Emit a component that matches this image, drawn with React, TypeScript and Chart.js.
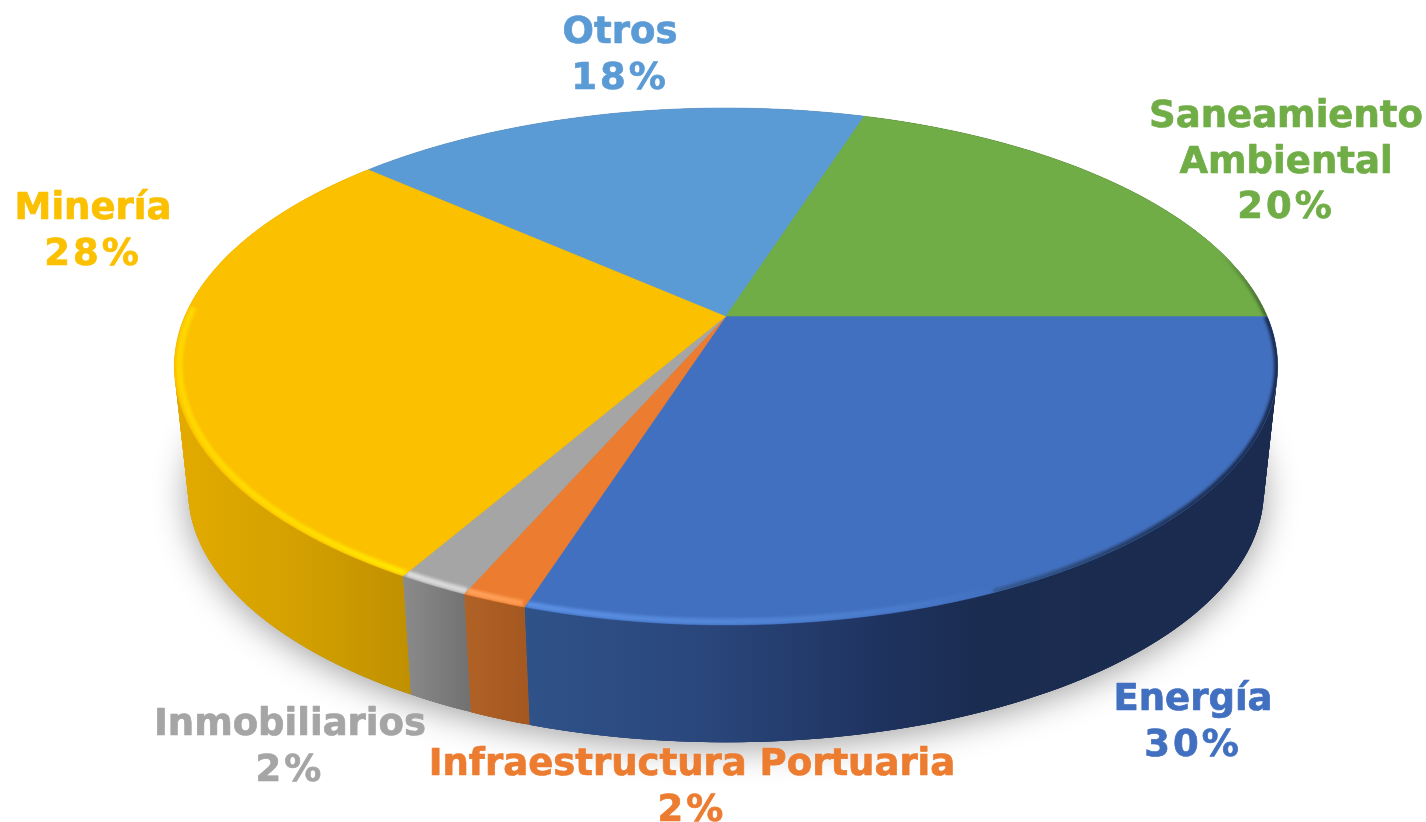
import React, { useEffect, useRef } from "react";
import { Chart, registerables } from "chart.js";

Chart.register(...registerables);

const categories = ["Energía", "Infraestructura Portuaria", "Inmobiliarios", "Minería", "Otros", "Saneamiento Ambiental"];
const shares = [29.9, 1.6, 1.75, 28.35, 18.3, 20.1];
const faceColors = ["#4270c0", "#ec7c30", "#a5a5a5", "#fbc000", "#5b9bd5", "#70ad47"];

const WIDTH = 1426;
const HEIGHT = 822;
const FONT = "bold 37px 'DejaVu Sans'";
const LINE_HEIGHT = 45.5;
const TILT = 0.1954;
const TOP_FACE = { cx: 726, cy: 316, a: 541, b: 248.6 };
const BOTTOM_FACE = { cx: 726, cy: 441, a: 527.5, b: 242.4 };
const SPAN = [175, 1280];

const wallStops: [number, string][][] = [
  [[525, "#2f5289"], [700, "#2a477c"], [880, "#1f3360"], [980, "#1a2c50"], [1280, "#1a2b4f"]],
  [[465, "#b06226"], [530, "#a4571f"]],
  [[405, "#8a8a8a"], [470, "#717171"]],
  [[185, "#e2aa00"], [300, "#d2a000"], [415, "#bf8f00"]],
  [[175, "#888888"], [1280, "#888888"]],
  [[175, "#555555"], [1280, "#555555"]],
];

const rimStyles: { from: number; to: number; t: number; width: number; stops: [number, string][] }[][] = [
  [
    { from: 62, to: 108, t: 0.991, width: 6, stops: [[525, "#5b90e4"], [760, "#5285d6"], [900, "#4a7acb"], [1000, "#4270c0"]] },
    { from: 0, to: 66, t: 1, width: 7, stops: [[900, "#4270c0"], [1000, "#34598f"], [1100, "#27436f"], [1200, "#1c2f55"], [1280, "#1a2b4f"]] },
  ],
  [{ from: 108, to: 120, t: 0.991, width: 6, stops: [[465, "#ffa25c"], [530, "#ff9a50"]] }],
  [{ from: 108, to: 125, t: 0.991, width: 6, stops: [[405, "#dcdcdc"], [470, "#d8d8d8"]] }],
  [{ from: 115, to: 182, t: 0.991, width: 6, stops: [[175, "#ffd800"], [300, "#ffdc00"], [415, "#ffe800"]] }],
  [],
  [{ from: 335, to: 360, t: 1, width: 6, stops: [[1220, "#70ad47"], [1280, "#34522a"]] }],
];

const labelPlacement = [
  { x: 1193, y: 710, wrap: false },
  { x: 692, y: 775, wrap: false },
  { x: 290, y: 735, wrap: false },
  { x: 93, y: 219, wrap: false },
  { x: 620, y: 43, wrap: false },
  { x: 1286, y: 127, wrap: true },
];

type Face = typeof TOP_FACE;

function project(theta: number, t: number, face: Face): [number, number] {
  const x = Math.cos(theta) * t;
  const y = Math.sin(theta) * t;
  const w = 1 - TILT * y;
  return [face.cx + (face.a * x) / w, face.cy + (face.b * y) / w];
}

function samples(a0: number, a1: number): number[] {
  const n = Math.max(2, Math.ceil(Math.abs(a1 - a0) / (Math.PI / 360)));
  const out: number[] = [];
  for (let i = 0; i <= n; i++) out.push(a0 + ((a1 - a0) * i) / n);
  return out;
}

function gradient(ctx: CanvasRenderingContext2D, stops: [number, string][]) {
  const g = ctx.createLinearGradient(SPAN[0], 0, SPAN[1], 0);
  const len = SPAN[1] - SPAN[0];
  stops.forEach(([x, c]) => g.addColorStop(Math.min(1, Math.max(0, (x - SPAN[0]) / len)), c));
  return g;
}

function tracePie(ctx: CanvasRenderingContext2D, a0: number, a1: number) {
  ctx.beginPath();
  ctx.moveTo(TOP_FACE.cx, TOP_FACE.cy);
  samples(a0, a1).forEach((th) => {
    const [x, y] = project(th, 1, TOP_FACE);
    ctx.lineTo(x, y);
  });
  ctx.closePath();
}

function fillWall(ctx: CanvasRenderingContext2D, a0: number, a1: number, paint: CanvasGradient) {
  ctx.fillStyle = paint;
  const steps = samples(a0, a1);
  const last = steps.length - 1;
  for (let i = 0; i < last; i++) {
    const next = steps[Math.min(i + 3, last)];
    const p = project(steps[i], 1, TOP_FACE);
    const q = project(next, 1, TOP_FACE);
    const r = project(next, 1, BOTTOM_FACE);
    const s = project(steps[i], 1, BOTTOM_FACE);
    ctx.beginPath();
    ctx.moveTo(p[0], p[1]);
    ctx.lineTo(q[0], q[1]);
    ctx.lineTo(r[0], r[1]);
    ctx.lineTo(s[0], s[1]);
    ctx.closePath();
    ctx.fill();
  }
}

const tiltedPie = {
  id: "tiltedPie",
  beforeDatasetsDraw(chart: any) {
    const ctx: CanvasRenderingContext2D = chart.ctx;
    const arcs = chart.getDatasetMeta(0).data as any[];
    const ranges = arcs.map((el) => [el.startAngle, el.endAngle] as [number, number]);

    // soft cast shadow under the disc
    ctx.save();
    ctx.shadowColor = "rgba(0,0,0,0.38)";
    ctx.shadowBlur = 34;
    ctx.shadowOffsetY = 5;
    ctx.fillStyle = "#888";
    ctx.beginPath();
    samples(0, Math.PI * 2).forEach((th, i) => {
      const [x, y] = project(th, 1, BOTTOM_FACE);
      if (i === 0) ctx.moveTo(x, y);
      else ctx.lineTo(x, y);
    });
    ctx.closePath();
    ctx.fill();
    ctx.restore();

    // walls, back slices first so that the front ones stay on top
    [4, 5, 0, 3, 1, 2].forEach((i) => {
      const [a0, a1] = ranges[i];
      fillWall(ctx, a0, a1, gradient(ctx, wallStops[i]));
    });

    // top faces
    ranges.forEach(([a0, a1], i) => {
      ctx.fillStyle = faceColors[i];
      ctx.strokeStyle = faceColors[i];
      ctx.lineWidth = 0.6;
      tracePie(ctx, a0, a1);
      ctx.fill();
      ctx.stroke();
    });

    // bevel highlights
    ranges.forEach(([a0, a1], i) => {
      rimStyles[i].forEach((rim) => {
        const from = Math.max(a0, (rim.from * Math.PI) / 180);
        const to = Math.min(a1, (rim.to * Math.PI) / 180);
        if (to <= from) return;
        ctx.save();
        tracePie(ctx, a0, a1);
        ctx.clip();
        ctx.filter = "blur(1.6px)";
        ctx.strokeStyle = gradient(ctx, rim.stops);
        ctx.lineWidth = rim.width;
        ctx.beginPath();
        samples(from, to).forEach((th, j) => {
          const [x, y] = project(th, rim.t, TOP_FACE);
          if (j === 0) ctx.moveTo(x, y);
          else ctx.lineTo(x, y);
        });
        ctx.stroke();
        ctx.restore();
      });
    });
    return false;
  },
  afterDraw(chart: any) {
    const ctx: CanvasRenderingContext2D = chart.ctx;
    const values: number[] = chart.data.datasets[0].data;
    const names: string[] = chart.data.labels;
    const total = values.reduce((s, v) => s + v, 0);
    ctx.save();
    ctx.font = FONT;
    ctx.textAlign = "center";
    ctx.textBaseline = "alphabetic";
    ctx.lineJoin = "round";
    ctx.lineWidth = 0.7;
    names.forEach((name, i) => {
      const place = labelPlacement[i];
      const lines = place.wrap ? name.split(" ") : [name];
      lines.push(`${Math.round((values[i] / total) * 100)}%`);
      ctx.fillStyle = faceColors[i];
      ctx.strokeStyle = faceColors[i];
      lines.forEach((line, j) => {
        (ctx as any).letterSpacing = j === lines.length - 1 ? "3px" : "0px";
        ctx.fillText(line, place.x, place.y + j * LINE_HEIGHT);
        ctx.strokeText(line, place.x, place.y + j * LINE_HEIGHT);
      });
    });
    ctx.restore();
  },
};

export default function App() {
  const ref = useRef<HTMLCanvasElement>(null);
  useEffect(() => {
    const chart = new Chart(ref.current!, {
      type: "pie",
      data: {
        labels: categories,
        datasets: [{ data: shares, backgroundColor: faceColors, borderWidth: 0 }],
      },
      options: {
        responsive: false,
        animation: false,
        rotation: 90,
        plugins: { legend: { display: false }, tooltip: { enabled: false } },
      },
      plugins: [tiltedPie],
    } as any);
    return () => chart.destroy();
  }, []);
  return (
    <div style={{ position: "fixed", left: 0, top: 0, width: WIDTH, height: HEIGHT, background: "#fff" }}>
      <canvas ref={ref} width={WIDTH} height={HEIGHT} style={{ display: "block" }} />
    </div>
  );
}
